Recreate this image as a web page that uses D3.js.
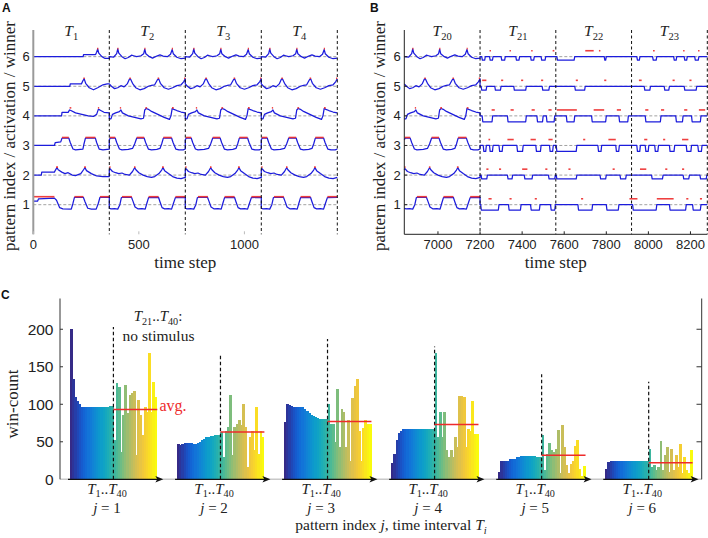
<!DOCTYPE html>
<html><head><meta charset="utf-8">
<script src="https://cdn.jsdelivr.net/npm/d3@7"></script>
<style>body{margin:0;background:#fff}svg{display:block}</style>
</head><body><svg id="chart" width="708" height="538"></svg>
<script>
// ================= DATA =================
const intervalLength = 360;
const patternRows = [1, 2, 3, 4, 5, 6];
const panelATicks = [0, 500, 1000];
const panelBTicks = [7000, 7200, 7400, 7600, 7800, 8000, 8200];
const panelAIntervals = ["1", "2", "3", "4"];
const panelBIntervals = ["20", "21", "22", "23"];

// activation offset from the row baseline, stimulated interval (one T, 360 steps)
const stimRow1 = [[0,-0.12],[8,-0.14],[25,-0.13],[40,-0.15],[50,0.0],[57,0.23],[62,0.25],[105,0.25],[112,0.12],[122,-0.08],[135,-0.14],[155,-0.13],[170,-0.15],[178,0.05],[186,0.24],[233,0.25],[240,0.1],[250,-0.1],[262,-0.14],[280,-0.13],[295,-0.15],[304,0.05],[313,0.24],[360,0.25]];
const stimRow2 = [[0,0.17],[3,0.22],[15,0.12],[30,0.08],[45,0.05],[60,0.07],[75,0.02],[95,0.0],[110,0.12],[120,0.25],[126,0.18],[140,0.08],[160,0.0],[180,-0.05],[200,-0.08],[215,-0.05],[235,0.05],[248,0.17],[254,0.25],[262,0.15],[280,0.05],[300,-0.05],[320,-0.1],[340,-0.12],[360,-0.08]];
const stimRow3 = [[0,0.2],[5,0.25],[28,0.25],[35,0.1],[48,-0.12],[60,-0.15],[90,-0.13],[110,-0.1],[120,0.05],[130,0.25],[165,0.25],[172,0.1],[185,-0.12],[200,-0.15],[225,-0.13],[240,-0.1],[248,0.05],[256,0.25],[295,0.25],[302,0.1],[315,-0.12],[330,-0.15],[350,-0.15],[360,-0.12]];
const stimRow4 = [[0,-0.1],[8,-0.1],[15,0.05],[30,0.1],[48,0.14],[55,0.2],[62,0.1],[90,0.0],[120,-0.05],[150,-0.1],[162,-0.08],[168,0.2],[175,0.25],[185,0.22],[200,0.15],[230,0.05],[260,-0.05],[285,-0.12],[292,0.0],[298,0.25],[306,0.22],[320,0.18],[340,0.13],[360,0.1]];
const stimRow5 = [[0,0.08],[10,0.0],[25,-0.08],[40,-0.05],[55,0.02],[70,-0.02],[85,0.08],[95,0.24],[100,0.25],[110,0.1],[125,-0.05],[145,-0.12],[165,-0.08],[185,0.0],[200,0.03],[215,0.05],[228,0.22],[234,0.25],[242,0.1],[260,-0.05],[280,-0.1],[300,-0.05],[320,0.02],[340,0.05],[352,0.15],[360,0.25]];
const stimRow6 = [[0,0.0],[20,-0.02],[35,0.1],[40,0.26],[45,0.12],[60,0.0],[75,-0.07],[90,-0.03],[105,0.05],[115,0.03],[130,0.0],[150,0.03],[163,0.1],[168,0.25],[173,0.1],[190,0.0],[205,-0.05],[225,0.02],[240,0.06],[255,0.02],[275,0.0],[290,0.08],[298,0.24],[303,0.1],[320,-0.02],[340,-0.07],[360,-0.05]];
// winner marks in a stimulated interval [from, to]
const stimWin1 = [[60,107],[186,233],[313,360]];
const stimWin2 = [[0,6],[117,124],[250,258]];
const stimWin3 = [[2,28],[130,165],[256,295]];
const stimWin4 = [[50,56],[171,179],[297,305]];
const stimWin5 = [[95,102],[229,236],[354,360]];
const stimWin6 = [[38,43],[166,171],[296,301]];

// first interval T1 (network starts)
const firstRow1 = [[0,0.12],[20,0.12],[25,0.2],[100,0.22],[110,0.15],[125,-0.1],[140,-0.14],[180,-0.15],[188,0.05],[195,0.25],[237,0.25],[245,0.1],[258,-0.12],[275,-0.15],[298,-0.15],[308,0.05],[316,0.25],[360,0.25]];
const firstRow2 = [[0,0],[38,0],[40,0.1],[100,0.1],[105,0.17],[112,0.25],[118,0.18],[135,0.1],[150,0.05],[165,0.08],[185,0.0],[200,-0.02],[225,0.05],[238,0.18],[245,0.25],[252,0.15],[275,0.05],[300,-0.03],[330,-0.05],[360,-0.05]];
const firstRow3 = [[0,0],[100,0],[104,0.1],[130,0.12],[136,0.25],[168,0.25],[175,0.1],[188,-0.12],[200,-0.15],[235,-0.12],[240,0.05],[247,0.25],[294,0.25],[300,0.1],[312,-0.12],[330,-0.15],[360,-0.12]];
const firstRow4 = [[0,0],[134,0],[136,0.12],[165,0.12],[172,0.2],[178,0.18],[200,0.1],[230,0.05],[260,0.0],[285,-0.02],[300,0.05],[308,0.22],[315,0.2],[335,0.12],[360,0.1]];
const firstRow5 = [[0,0],[173,0],[175,0.08],[228,0.08],[236,0.2],[241,0.25],[248,0.1],[265,-0.05],[285,-0.12],[305,-0.05],[330,0.05],[350,0.08],[360,0.08]];
const firstRow6 = [[0,0],[236,0],[238,0.07],[295,0.07],[300,0.15],[305,0.26],[310,0.12],[325,0.0],[340,-0.06],[360,-0.06]];
const firstWin1 = [[0,100],[195,237],[316,360]];
const firstWin2 = [[108,117],[241,249]];
const firstWin3 = [[136,168],[247,294]];
const firstWin4 = [[172,180],[306,312]];
const firstWin5 = [[237,244]];
const firstWin6 = [[302,308]];

// no-stimulus intervals T21..T23: periods where the activation is low [from, to]
const silentLow1 = [[7203,7290],[7335,7395],[7440,7485],[7535,7558],[7665,7735],[7800,7860],[7925,8040],[8100,8180],[8210,8250]];
const silentLow2 = [[7205,7235],[7330,7355],[7410,7450],[7525,7558],[7562,7660],[7770,7800],[7865,7895],[8015,8070],[8165,8195],[8245,8278]];
const silentLow3 = [[7215,7230],[7245,7262],[7290,7308],[7375,7405],[7465,7490],[7530,7548],[7562,7660],[7760,7778],[7845,7862],[7945,7962],[7985,8002],[8030,8048],[8100,8125],[8180,8205],[8235,8255]];
const silentLow4 = [[7210,7260],[7330,7420],[7470,7500],[7515,7555],[7610,7650],[7730,7800],[7860,7905],[7985,8060],[8130,8165],[8205,8250]];
const silentLow5 = [[7205,7232],[7270,7300],[7360,7420],[7495,7530],[7650,7700],[7980,8010],[8075,8100],[8170,8230]];
const silentLow6 = [[7208,7225],[7245,7262],[7300,7320],[7370,7388],[7440,7458],[7490,7512],[7565,7650],[7790,7800],[7945,7960],[8020,8040],[8120,8135],[8170,8185],[8220,8240]];
const silentDepth = [0.18, 0.13, 0.2, 0.2, 0.13, 0.12];
const silentWin1 = [[7240,7255],[7340,7350],[7460,7470],[7680,7690],[7910,7948],[8040,8120],[8180,8190],[8245,8255]];
const silentWin2 = [[7230,7240],[7290,7300],[7400,7425],[7510,7520],[7620,7630],[7830,7840],[7960,7990],[8080,8090],[8160,8170]];
const silentWin3 = [[7240,7248],[7330,7360],[7440,7465],[7525,7545],[7690,7700],[7810,7845],[7980,7995],[8070,8080],[8160,8190]];
const silentWin4 = [[7255,7270],[7345,7360],[7445,7460],[7525,7540],[7565,7660],[7740,7790],[7850,7870],[7985,8000],[8060,8075],[8170,8185],[8240,8270]];
const silentWin5 = [[7210,7230],[7300,7310],[7395,7405],[7490,7500],[7655,7665],[7790,7800],[7955,7968],[8115,8125],[8195,8205]];
const silentWin6 = [[7245,7252],[7340,7347],[7443,7450],[7545,7553],[7700,7740],[7765,7772],[8022,8030],[8165,8172],[8236,8243]];

// Panel C: win-count per time interval T1..T40 for each pattern j
const winCount1 = [201,134,110,104,100,97,96,96,96,96,96,96,96,96,97,97,97,97,98,98, 52,128,123,37,86,126,88,112,115,118,32,106,86,59,97,90,169,90,130,110];
const winCount2 = [47,46,47,48,49,48,48,47,47,48,50,52,54,56,57,58,58,59,59,59, 63,30,65,70,113,32,70,74,79,72,100,70,16,56,65,39,97,34,65,56];
const winCount3 = [76,100,99,98,97,97,97,97,96,94,91,88,86,84,83,82,81,81,81,81, 101,74,74,50,121,43,94,90,43,79,25,109,125,134,65,25,68,79,74,74];
const winCount4 = [22,34,52,62,65,67,67,67.5,67.5,67.5,67.5,67.5,67.5,67.5,67.5,67.5,67.5,67.5,67.5,67.5, 168,56,90,56,90,39,30,39,30,56,43,111,111,110,43,67,65,105,61,61];
const winCount5 = [10,24,25,25,25,27,27,27,30,30,31,31,31,31,31,31,31,30,30,30, 59,12,34,48,39,36,41,66,8,72,43,19,8,21,25,45,52,14,5,18];
const winCount6 = [14,23,24,24,24,24,24,25,25,25,25,25,25,25,25,25,25,25,25,25, 41,16,19,12,16,51,12,32,43,10,41,12,32,16,47,8,30,12,8,39];
const winAverage = [93, 63, 77, 73, 32, 22];
const splitLineTop = [203, 168, 187, 177, 140, 130];
const winTicks = [0, 50, 100, 150, 200];
const patternIndex = [1, 2, 3, 4, 5, 6];

// ================= DRAWING =================
const svg = d3.select("#chart");
const SANS = "'Liberation Sans', Arial, Helvetica, sans-serif";
const SERIF = "'Liberation Serif', 'Times New Roman', serif";
const BLUE = "#1c1cdc", RED = "#ee2b2b";

const stimRows = [stimRow1, stimRow2, stimRow3, stimRow4, stimRow5, stimRow6];
const stimWins = [stimWin1, stimWin2, stimWin3, stimWin4, stimWin5, stimWin6];
const firstRows = [firstRow1, firstRow2, firstRow3, firstRow4, firstRow5, firstRow6];
const firstWins = [firstWin1, firstWin2, firstWin3, firstWin4, firstWin5, firstWin6];
const silentLows = [silentLow1, silentLow2, silentLow3, silentLow4, silentLow5, silentLow6];
const silentWins = [silentWin1, silentWin2, silentWin3, silentWin4, silentWin5, silentWin6];
const winCounts = [winCount1, winCount2, winCount3, winCount4, winCount5, winCount6];

function tex(g, x, y, parts, fs, anchor, color) {
  const t = g.append("text").attr("x", x).attr("y", y)
    .attr("font-family", SERIF).attr("font-size", fs)
    .attr("text-anchor", anchor || "middle").attr("fill", color || "#222");
  let shift = 0;
  parts.forEach(p => {
    const target = p.sub ? fs * 0.25 : 0;
    const ts = t.append("tspan").text(p.t);
    if (target !== shift) { ts.attr("dy", target - shift); shift = target; }
    if (p.sub) ts.attr("font-size", fs * 0.68);
    if (p.it) ts.attr("font-style", "italic");
  });
  return t;
}

const yRow = d3.scaleLinear().domain([0, 6.9]).range([234.3, 30]);
const line = (xs) => d3.line().x(d => xs(d[0])).y(d => yRow(d[1])).curve(d3.curveLinear);

function drawTracePanel(g, xs, domain, intervals, rowPoints, rowWins, winOffset, axisStyle, ticks, labelX) {
  patternRows.forEach(r => {
    g.append("line").attr("x1", xs(domain[0])).attr("x2", xs(domain[1]))
      .attr("y1", yRow(r)).attr("y2", yRow(r))
      .attr("stroke", "#8a8a8a").attr("stroke-width", 0.8).attr("stroke-dasharray", "3,2");
  });
  patternRows.forEach((r, i) => {
    g.append("path").datum(rowPoints[i].map(d => [d[0], r + d[1]]))
      .attr("d", line(xs)).attr("fill", "none").attr("stroke", BLUE)
      .attr("stroke-width", 1.25).attr("stroke-linejoin", "round");
  });
  patternRows.forEach((r, i) => {
    rowWins[i].forEach(w => {
      const off = typeof winOffset === "function" ? winOffset(w) : winOffset;
      g.append("line").attr("x1", xs(w[0])).attr("x2", Math.max(xs(w[1]), xs(w[0]) + 1.2))
        .attr("y1", yRow(r + off)).attr("y2", yRow(r + off))
        .attr("stroke", RED).attr("stroke-width", 1.6).attr("opacity", 0.9);
    });
  });
  intervals.forEach((lab, k) => {
    const end = domain[0] + (k + 1) * intervalLength;
    g.append("line").attr("x1", xs(end)).attr("x2", xs(end))
      .attr("y1", yRow(6.9)).attr("y2", yRow(0))
      .attr("stroke", "#111").attr("stroke-width", 1).attr("stroke-dasharray", "3,2.5");
    tex(g, xs(domain[0] + (k + 0.5) * intervalLength), 36,
      [{t: "T", it: true}, {t: lab, sub: true}], 15.5);
  });
  const axisColor = axisStyle === "gray" ? "#9a9a9a" : "#222";
  g.append("line").attr("x1", xs(domain[0])).attr("x2", xs(domain[0]))
    .attr("y1", yRow(6.9)).attr("y2", yRow(0))
    .attr("stroke", axisColor).attr("stroke-width", axisStyle === "gray" ? 2 : 1);
  patternRows.forEach(r => {
    g.append("text").attr("x", xs(domain[0]) - 3.5).attr("y", yRow(r) + 4.6)
      .attr("text-anchor", "end").attr("font-family", SANS).attr("font-size", 13)
      .attr("fill", "#222").text(r);
    if (axisStyle !== "gray")
      g.append("line").attr("x1", xs(domain[0])).attr("x2", xs(domain[0]) + 3)
        .attr("y1", yRow(r)).attr("y2", yRow(r)).attr("stroke", "#222");
  });
  if (axisStyle !== "gray") {
    g.append("line").attr("x1", xs(domain[0])).attr("x2", xs(domain[1]))
      .attr("y1", yRow(0)).attr("y2", yRow(0)).attr("stroke", "#222").attr("stroke-width", 1);
  }
  ticks.forEach(tk => {
    g.append("line").attr("x1", xs(tk)).attr("x2", xs(tk))
      .attr("y1", yRow(0)).attr("y2", yRow(0) - 3)
      .attr("stroke", axisStyle === "gray" ? "#bbb" : "#222");
    g.append("text").attr("x", xs(tk)).attr("y", 249)
      .attr("text-anchor", "middle").attr("font-family", SANS).attr("font-size", 13)
      .attr("fill", "#222").text(tk);
  });
  g.append("text").attr("x", (xs(domain[0]) + xs(domain[1])) / 2).attr("y", 267.5)
    .attr("text-anchor", "middle").attr("font-family", SERIF).attr("font-size", 17)
    .attr("fill", "#222").text("time step");
  g.append("text").attr("transform", `translate(${labelX},136) rotate(-90)`)
    .attr("text-anchor", "middle").attr("font-family", SERIF).attr("font-size", 17)
    .attr("fill", "#222").text("pattern index / activation / winner");
}

// ---- Panel A ----
const xA = d3.scaleLinear().domain([0, 1440]).range([33.3, 337.3]);
const aPoints = firstRows.map((f, i) => {
  let pts = f.slice();
  for (let k = 1; k < 4; k++) pts = pts.concat(stimRows[i].map(d => [k * intervalLength + d[0], d[1]]));
  return pts;
});
const aWins = firstWins.map((f, i) => {
  let w = f.slice();
  for (let k = 1; k < 4; k++) w = w.concat(stimWins[i].map(d => [k * intervalLength + d[0], k * intervalLength + d[1]]));
  return w;
});
const gA = svg.append("g");
drawTracePanel(gA, xA, [0, 1440], panelAIntervals, aPoints, aWins, 0.27, "gray", panelATicks, 15);

// ---- Panel B ----
const xB = d3.scaleLinear().domain([6840, 8280]).range([404.3, 707.3]);
const bStart = 6840, silentStart = 7200, bEnd = 8280;
const bPoints = stimRows.map((s, i) => {
  let pts = s.map(d => [bStart + d[0], d[1]]);
  const lo = -silentDepth[i];
  pts.push([silentStart, 0]);
  silentLows[i].forEach(([a, b]) => {
    pts.push([a, 0], [a + 3, lo], [b - 3, lo], [b, 0]);
  });
  pts.push([bEnd, 0]);
  return pts;
});
const bWins = stimWins.map((s, i) => s.map(d => [bStart + d[0], bStart + d[1]]).concat(silentWins[i]));
const gB = svg.append("g");
drawTracePanel(gB, xB, [6840, 8280], panelBIntervals, bPoints, bWins,
  w => (w[0] < silentStart ? 0.27 : 0.2), "black", panelBTicks, 385);

[["A", 2, 12], ["B", 370, 12], ["C", 1, 299]].forEach(([t, x, y]) => {
  svg.append("text").attr("x", x).attr("y", y).attr("font-family", SANS)
    .attr("font-weight", "bold").attr("font-size", 12).attr("fill", "#111").text(t);
});

// ---- Panel C ----
const gC = svg.append("g");
const yC = d3.scaleLinear().domain([0, 241]).range([479.3, 298.5]);
const groupX = d3.scaleBand().domain(patternIndex).range([70, 692.1]).paddingInner(0.189).paddingOuter(0);
const barX = d3.scaleBand().domain(d3.range(40)).range([0, groupX.bandwidth()]).padding(0);
const parula = d3.interpolateRgbBasis(["#352a87", "#0f5cdd", "#1481d6", "#06a4ca", "#2eb7a4", "#87bf77", "#d1bb59", "#fec832", "#f9fb0e"]);

gC.append("line").attr("x1", 60).attr("x2", 702).attr("y1", yC(0)).attr("y2", yC(0))
  .attr("stroke", "#c8c8c8").attr("stroke-width", 1.6);

patternIndex.forEach((j, gi) => {
  const x0 = groupX(j);
  const bw = barX.bandwidth();
  gC.selectAll(null).data(winCounts[gi]).enter().append("rect")
    .attr("x", (d, i) => x0 + barX(i)).attr("width", bw + 0.6)
    .attr("y", d => yC(d)).attr("height", d => yC(0) - yC(d))
    .attr("shape-rendering", "crispEdges")
    .attr("fill", (d, i) => parula(i / 39));
  const xe = x0 + groupX.bandwidth() + 6.5;
  gC.append("line").attr("x1", x0 - 2).attr("x2", xe - 5).attr("y1", yC(0)).attr("y2", yC(0))
    .attr("stroke", "#111").attr("stroke-width", 1.3);
  gC.append("path").attr("d", `M${xe},${yC(0)} L${xe - 8},${yC(0) - 3.2} L${xe - 6},${yC(0)} L${xe - 8},${yC(0) + 3.2} Z`)
    .attr("fill", "#111");
  const xs = x0 + barX(20);
  gC.append("line").attr("x1", xs).attr("x2", xs).attr("y1", yC(0)).attr("y2", yC(splitLineTop[gi]))
    .attr("stroke", "#111").attr("stroke-width", 1.2).attr("stroke-dasharray", "3.5,2.5");
  gC.append("line").attr("x1", xs).attr("x2", x0 + groupX.bandwidth() + 0.5)
    .attr("y1", yC(winAverage[gi])).attr("y2", yC(winAverage[gi]))
    .attr("stroke", RED).attr("stroke-width", 1.6);
  tex(gC, x0 + 37, 493.5, [{t: "T", it: true}, {t: "1", sub: true}, {t: ".."}, {t: "T", it: true}, {t: "40", sub: true}], 15);
  tex(gC, x0 + 37, 513, [{t: "j", it: true}, {t: " = " + j}], 15);
});

gC.append("line").attr("x1", 60).attr("x2", 60).attr("y1", 298.5).attr("y2", yC(0)).attr("stroke", "#333").attr("stroke-width", 1);
gC.append("line").attr("x1", 701.7).attr("x2", 701.7).attr("y1", 298.5).attr("y2", yC(0)).attr("stroke", "#333").attr("stroke-width", 1);
winTicks.forEach(v => {
  gC.append("text").attr("x", 53.5).attr("y", yC(v) + 5.5).attr("text-anchor", "end")
    .attr("font-family", SANS).attr("font-size", 15.5).attr("fill", "#222").text(v);
  if (v > 0) {
    gC.append("line").attr("x1", 60).attr("x2", 63).attr("y1", yC(v)).attr("y2", yC(v)).attr("stroke", "#333");
    gC.append("line").attr("x1", 701.7).attr("x2", 696.5).attr("y1", yC(v)).attr("y2", yC(v)).attr("stroke", "#333");
  }
});
gC.append("text").attr("transform", "translate(18,404) rotate(-90)").attr("text-anchor", "middle")
  .attr("font-family", SERIF).attr("font-size", 17).attr("fill", "#222").text("win-count");
tex(gC, 158, 321, [{t: "T", it: true}, {t: "21", sub: true}, {t: ".."}, {t: "T", it: true}, {t: "40", sub: true}, {t: ":"}], 15);
gC.append("text").attr("x", 158.5).attr("y", 341).attr("text-anchor", "middle")
  .attr("font-family", SERIF).attr("font-size", 15.5).attr("fill", "#222").text("no stimulus");
gC.append("text").attr("x", 159.5).attr("y", 410.5).attr("font-family", SERIF)
  .attr("font-size", 16).attr("fill", RED).text("avg.");
tex(gC, 391, 530, [{t: "pattern index "}, {t: "j", it: true}, {t: ", time interval "}, {t: "T", it: true}, {t: "i", it: true, sub: true}], 15.5);
</script></body></html>
